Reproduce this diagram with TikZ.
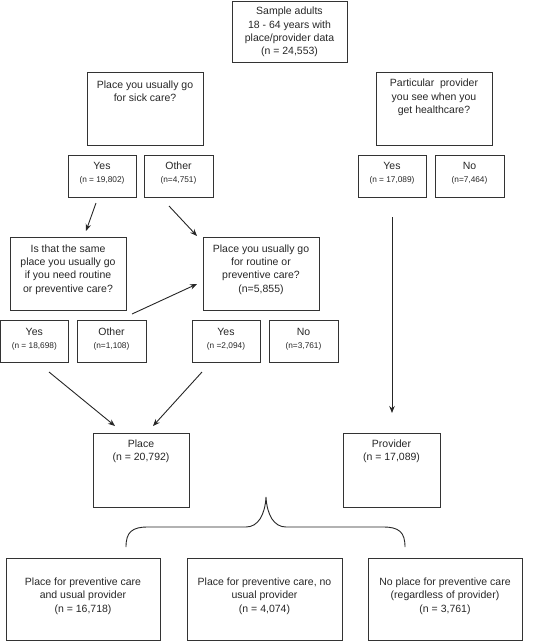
\documentclass[tikz,border=0pt]{standalone}
\usepackage{fontspec}
\setmainfont{Liberation Sans}
\usetikzlibrary{arrows.meta,fit}
\newcommand\nsz{\fontsize{8.3}{10}\selectfont}
\begin{document}
\begin{tikzpicture}[x=1pt,y=-1pt,
  box/.style={draw=black!80, line width=0.9pt, inner sep=0pt},
  txt/.style={align=center, inner sep=0pt, font=\fontsize{10.5}{13.3}\selectfont, text=black!85},
  arr/.style={draw=black!85, line width=0.9pt, -{Stealth[length=7pt,width=5.5pt]}},
  brace/.style={draw=black!85, line width=0.9pt},
]
\useasboundingbox (0,0) rectangle (560,641);
% boxes
\node[box, fit={(232,1)(347,62)}] (top) {};
\node[box, fit={(87,72)(203,145)}] (sick) {};
\node[box, fit={(376,72)(492,145)}] (provq) {};
\node[box, fit={(68,155)(136,197)}] (yesA) {};
\node[box, fit={(144,155)(213,197)}] (otherA) {};
\node[box, fit={(358,155)(426,197)}] (yesP) {};
\node[box, fit={(435,155)(504,197)}] (noP) {};
\node[box, fit={(10,237)(126,310)}] (same) {};
\node[box, fit={(203,237)(319,310)}] (routine) {};
\node[box, fit={(0.6,320)(68,362)}] (yesB) {};
\node[box, fit={(77,320)(146,362)}] (otherB) {};
\node[box, fit={(192,320)(260,362)}] (yesC) {};
\node[box, fit={(269,320)(338,362)}] (noC) {};
\node[box, fit={(93,433)(189,507)}] (place) {};
\node[box, fit={(343,433)(440,507)}] (provider) {};
\node[box, fit={(6,558)(160,640)}] (out1) {};
\node[box, fit={(187,558)(342,640)}] (out2) {};
\node[box, fit={(368,558)(522,640)}] (out3) {};
% texts
\node[txt] (top-t) at (289.5,32) {Sample adults\\18 - 64 years with\\place/provider data\\(n = 24,553)};
\node[txt] (sick-t) at (145,91) {Place you usually go\\for sick care?};
\node[txt] (provq-t) at (434,97.5) {Particular\ \ provider\\you see when you\\get healthcare?};
\node[txt] (yesA-t) at (102,173) {Yes\\\nsz(n = 19,802)};
\node[txt] (otherA-t) at (178.5,173) {Other\\\nsz(n=4,751)};
\node[txt] (yesP-t) at (392,173) {Yes\\\nsz(n = 17,089)};
\node[txt] (noP-t) at (469.5,173) {No\\\nsz(n=7,464)};
\node[txt] (same-t) at (68,269.5) {Is that the same\\place you usually go\\if you need routine\\or preventive care?};
\node[txt] (routine-t) at (261,269.5) {Place you usually go\\for routine or\\preventive care?\\(n=5,855)};
\node[txt] (yesB-t) at (34.3,339) {Yes\\\nsz(n = 18,698)};
\node[txt] (otherB-t) at (111.5,339) {Other\\\nsz(n=1,108)};
\node[txt] (yesC-t) at (226,339) {Yes\\\nsz(n =2,094)};
\node[txt] (noC-t) at (303.5,339) {No\\\nsz(n=3,761)};
\node[txt] (place-t) at (141,451.5) {Place\\(n = 20,792)};
\node[txt] (provider-t) at (391.5,451.5) {Provider\\(n = 17,089)};
\node[txt] (out1-t) at (83,596) {Place for preventive care\\and usual provider\\(n = 16,718)};
\node[txt] (out2-t) at (264.5,596) {Place for preventive care, no\\usual provider\\(n = 4,074)};
\node[txt] (out3-t) at (445,596) {No place for preventive care\\(regardless of provider)\\(n = 3,761)};
% arrow end points
\coordinate (a1s) at (96,203);
\coordinate (a1e) at (86,231);
\coordinate (a2s) at (169,206);
\coordinate (a2e) at (197,236);
\coordinate (a3s) at (132,314);
\coordinate (a3e) at (197,284);
\coordinate (a4s) at (49,372);
\coordinate (a4e) at (115,426);
\coordinate (a5s) at (202,372);
\coordinate (a5e) at (153,426);
\coordinate (a6s) at (392,217);
\coordinate (a6e) at (392,413);
\draw[arr] (a1s) -- (a1e);
\draw[arr] (a2s) -- (a2e);
\draw[arr] (a3s) -- (a3e);
\draw[arr] (a4s) -- (a4e);
\draw[arr] (a5s) -- (a5e);
\draw[arr] (a6s) -- (a6e);
% brace
\coordinate (brL) at (126,547);
\coordinate (brT) at (266,497);
\coordinate (brR) at (405,547);
\draw[brace] (brL) .. controls (126,532) and (132,527) .. (148,527) -- (246,527)
  .. controls (258,527) and (265,515) .. (brT)
  .. controls (267,515) and (274,527) .. (286,527) -- (383,527)
  .. controls (399,527) and (405,532) .. (brR);
\end{tikzpicture}
\end{document}
